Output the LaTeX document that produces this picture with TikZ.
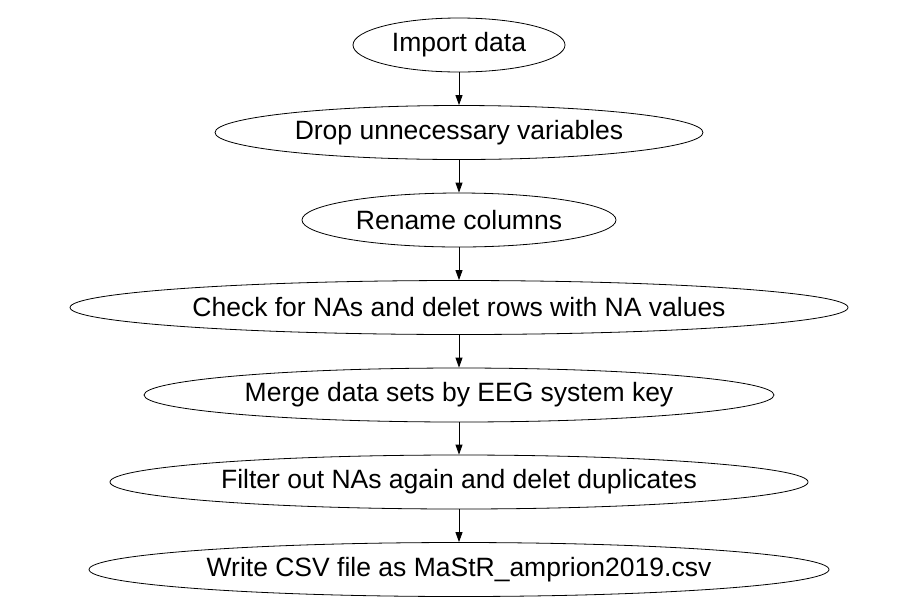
\documentclass[tikz,border=0pt]{standalone}
\usepackage{fontspec}
\setmainfont{Liberation Sans}
\usetikzlibrary{shapes.geometric,arrows.meta}
\begin{document}
\begin{tikzpicture}[x=1pt,y=-1pt,
  stepnode/.style={ellipse,draw,line width=0.8pt,inner sep=0pt,minimum height=54pt,
    font=\fontsize{26.5}{30}\selectfont},
  flow/.style={line width=0.8pt,-{Triangle[length=10pt,width=7pt]}}]
\useasboundingbox[fill=white] (0,0) rectangle (917,614);
\node[stepnode,minimum width=212pt] (n1) at (459,45) {Import data};
\node[stepnode,minimum width=488pt] (n2) at (459,132.5) {Drop unnecessary variables};
\node[stepnode,minimum width=314pt] (n3) at (459,220) {Rename columns};
\node[stepnode,minimum width=778pt] (n4) at (459,307.5) {Check for NAs and delet rows with NA values};
\node[stepnode,minimum width=630pt] (n5) at (459,395) {Merge data sets by EEG system key};
\node[stepnode,minimum width=698pt] (n6) at (459,482) {Filter out NAs again and delet duplicates};
\node[stepnode,minimum width=740pt] (n7) at (459,569.5) {Write CSV file as MaStR\_amprion2019.csv};
\foreach \a/\b in {n1/n2,n2/n3,n3/n4,n4/n5,n5/n6,n6/n7}
  \draw[flow] (\a.south) -- (\b.north);
\end{tikzpicture}
\end{document}
